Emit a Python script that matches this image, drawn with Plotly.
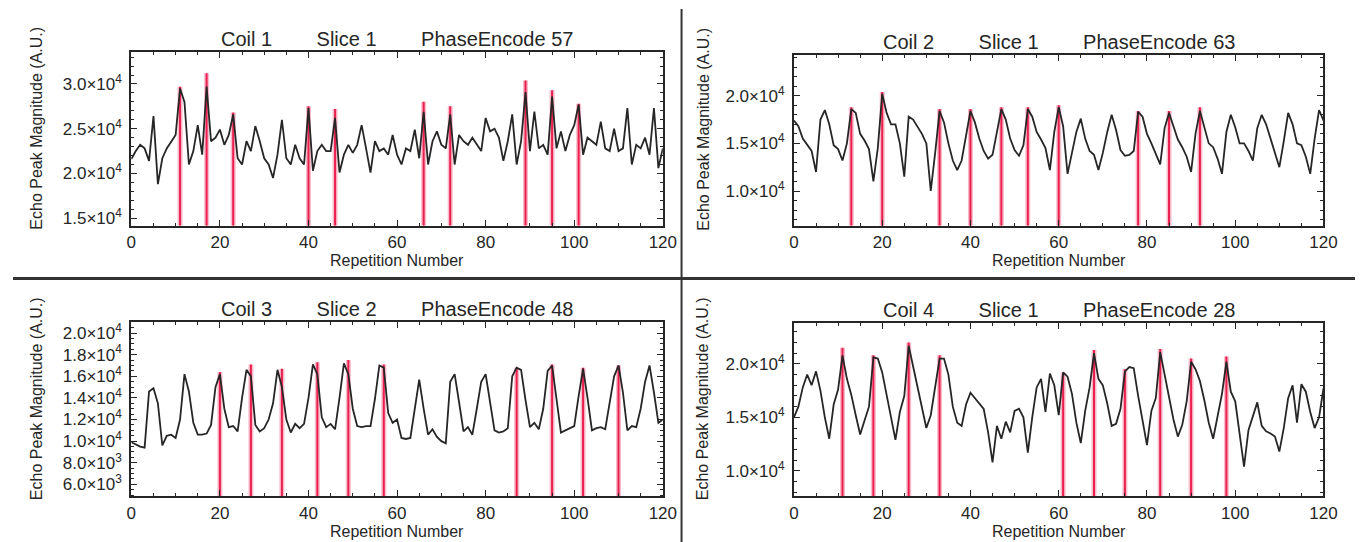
import plotly.graph_objects as go

# ---------------- data (values in units of 10^4 A.U.) ----------------
rep = list(range(121))

coil1 = [2.16, 2.25, 2.32, 2.28, 2.14, 2.64, 1.88, 2.17, 2.28, 2.36,
         2.43, 2.95, 2.80, 2.10, 2.25, 2.54, 2.21, 2.97, 2.36, 2.40,
         2.49, 2.32, 2.43, 2.66, 2.17, 2.10, 2.36, 2.25, 2.53, 2.36,
         2.17, 2.10, 1.95, 2.21, 2.60, 2.17, 2.10, 2.32, 2.17, 2.10,
         2.73, 2.03, 2.25, 2.32, 2.25, 2.25, 2.62, 2.01, 2.21, 2.32,
         2.23, 2.32, 2.54, 2.28, 2.01, 2.36, 2.25, 2.28, 2.21, 2.43,
         2.21, 2.10, 2.28, 2.25, 2.49, 2.17, 2.69, 2.10, 2.36, 2.47,
         2.32, 2.28, 2.66, 2.10, 2.43, 2.36, 2.32, 2.40, 2.32, 2.25,
         2.62, 2.47, 2.50, 2.40, 2.14, 2.36, 2.66, 2.10, 2.36, 2.91,
         2.25, 2.69, 2.28, 2.32, 2.21, 2.86, 2.28, 2.47, 2.25, 2.43,
         2.54, 2.77, 2.21, 2.40, 2.36, 2.32, 2.58, 2.28, 2.25, 2.50,
         2.25, 2.28, 2.73, 2.10, 2.32, 2.28, 2.40, 2.21, 2.73, 2.06,
         2.28]
coil1_marks = [11, 17, 23, 40, 46, 66, 72, 89, 95, 101]
coil1_mark_tops = [2.97, 3.12, 2.68, 2.75, 2.72, 2.80, 2.75, 3.04, 2.93, 2.78]

coil2 = [1.74, 1.68, 1.55, 1.48, 1.42, 1.20, 1.75, 1.85, 1.70, 1.48,
         1.44, 1.32, 1.50, 1.86, 1.82, 1.60, 1.53, 1.44, 1.10, 1.45,
         2.02, 1.82, 1.70, 1.70, 1.50, 1.15, 1.78, 1.75, 1.68, 1.60,
         1.50, 1.00, 1.40, 1.84, 1.72, 1.50, 1.32, 1.22, 1.32, 1.60,
         1.84, 1.72, 1.55, 1.42, 1.34, 1.38, 1.62, 1.86, 1.75, 1.55,
         1.43, 1.37, 1.48, 1.86, 1.78, 1.62, 1.54, 1.45, 1.22, 1.62,
         1.88, 1.68, 1.18, 1.42, 1.62, 1.76, 1.55, 1.42, 1.38, 1.22,
         1.40, 1.62, 1.80, 1.64, 1.43, 1.37, 1.38, 1.42, 1.83, 1.78,
         1.60, 1.50, 1.38, 1.28, 1.66, 1.82, 1.68, 1.54, 1.46, 1.36,
         1.20, 1.60, 1.84, 1.66, 1.50, 1.46, 1.34, 1.18, 1.62, 1.80,
         1.67, 1.50, 1.50, 1.42, 1.32, 1.66, 1.80, 1.70, 1.55, 1.42,
         1.25, 1.52, 1.82, 1.70, 1.50, 1.48, 1.36, 1.18, 1.55, 1.85,
         1.74]
coil2_marks = [13, 20, 33, 40, 47, 53, 60, 78, 85, 92]
coil2_mark_tops = [1.88, 2.04, 1.86, 1.86, 1.88, 1.88, 1.90, 1.84, 1.84, 1.88]

coil3 = [0.99, 0.97, 0.95, 0.94, 1.46, 1.49, 1.35, 0.96, 1.05, 1.06,
         1.03, 1.20, 1.62, 1.46, 1.17, 1.06, 1.06, 1.07, 1.15, 1.50,
         1.62, 1.30, 1.13, 1.14, 1.09, 1.40, 1.66, 1.60, 1.15, 1.09,
         1.12, 1.20, 1.35, 1.66, 1.50, 1.20, 1.08, 1.16, 1.12, 1.16,
         1.40, 1.71, 1.62, 1.22, 1.13, 1.16, 1.11, 1.40, 1.72, 1.62,
         1.30, 1.14, 1.13, 1.14, 1.14, 1.39, 1.70, 1.68, 1.26, 1.17,
         1.20, 1.03, 1.02, 1.03, 1.30, 1.57, 1.30, 1.06, 1.11, 1.04,
         1.00, 0.98, 1.55, 1.62, 1.36, 1.09, 1.13, 1.06, 1.30, 1.55,
         1.62, 1.35, 1.10, 1.08, 1.09, 1.12, 1.60, 1.68, 1.66, 1.38,
         1.13, 1.17, 1.11, 1.30, 1.65, 1.70, 1.40, 1.08, 1.10, 1.12,
         1.14, 1.42, 1.67, 1.40, 1.10, 1.12, 1.13, 1.11, 1.35, 1.60,
         1.70, 1.45, 1.10, 1.14, 1.13, 1.30, 1.55, 1.70, 1.45, 1.17,
         1.20]
coil3_marks = [20, 27, 34, 42, 49, 57, 87, 95, 102, 110]
coil3_mark_tops = [1.64, 1.71, 1.67, 1.73, 1.75, 1.71, 1.68, 1.71, 1.68, 1.70]

coil4 = [1.50, 1.60, 1.78, 1.90, 1.80, 1.93, 1.75, 1.50, 1.30, 1.62,
         1.76, 2.08, 1.86, 1.71, 1.52, 1.34, 1.47, 1.60, 2.06, 2.05,
         1.92, 1.72, 1.50, 1.29, 1.55, 1.70, 2.17, 1.98, 1.80, 1.60,
         1.40, 1.52, 1.78, 2.05, 2.05, 1.90, 1.60, 1.45, 1.42, 1.62,
         1.73, 1.68, 1.62, 1.58, 1.36, 1.08, 1.42, 1.30, 1.46, 1.36,
         1.56, 1.58, 1.50, 1.17, 1.50, 1.78, 1.86, 1.55, 1.91, 1.80,
         1.52, 1.92, 1.88, 1.72, 1.45, 1.26, 1.56, 1.78, 2.10, 1.86,
         1.80, 1.63, 1.42, 1.44, 1.58, 1.93, 1.97, 1.96, 1.70, 1.45,
         1.24, 1.56, 1.68, 2.11, 1.90, 1.66, 1.48, 1.32, 1.43, 1.65,
         2.02, 1.95, 1.84, 1.66, 1.45, 1.30, 1.52, 1.72, 2.02, 1.74,
         1.65, 1.35, 1.04, 1.38, 1.50, 1.64, 1.42, 1.37, 1.35, 1.32,
         1.18, 1.40, 1.68, 1.80, 1.45, 1.81, 1.74, 1.55, 1.40, 1.50,
         1.77]
coil4_marks = [11, 18, 26, 33, 61, 68, 75, 83, 90, 98]
coil4_mark_tops = [2.15, 2.08, 2.20, 2.08, 1.92, 2.13, 1.95, 2.14, 2.05, 2.07]

GAP = "\u00a0" * 8
titles = ["Coil 1" + GAP + "Slice 1" + GAP + "PhaseEncode 57",
          "Coil 2" + GAP + "Slice 1" + GAP + "PhaseEncode 63",
          "Coil 3" + GAP + "Slice 2" + GAP + "PhaseEncode 48",
          "Coil 4" + GAP + "Slice 1" + GAP + "PhaseEncode 28"]

x_ticks = [0, 20, 40, 60, 80, 100, 120]
y_ticks_1 = [1.5, 2.0, 2.5, 3.0]
y_ticks_2 = [1.0, 1.5, 2.0]
y_ticks_3 = [0.6, 0.8, 1.0, 1.2, 1.4, 1.6, 1.8, 2.0]
y_ticks_4 = [1.0, 1.5, 2.0]
y_ticktext_1 = ["1.5×10<sup>4</sup>", "2.0×10<sup>4</sup>", "2.5×10<sup>4</sup>", "3.0×10<sup>4</sup>"]
y_ticktext_2 = ["1.0×10<sup>4</sup>", "1.5×10<sup>4</sup>", "2.0×10<sup>4</sup>"]
y_ticktext_3 = ["6.0×10<sup>3</sup>", "8.0×10<sup>3</sup>", "1.0×10<sup>4</sup>", "1.2×10<sup>4</sup>",
                "1.4×10<sup>4</sup>", "1.6×10<sup>4</sup>", "1.8×10<sup>4</sup>", "2.0×10<sup>4</sup>"]
y_ticktext_4 = ["1.0×10<sup>4</sup>", "1.5×10<sup>4</sup>", "2.0×10<sup>4</sup>"]

# ---------------- layout geometry ----------------
W, H = 1363, 542
FONT = "Liberation Sans, Arial, sans-serif"
INK = "#262626"
RED = "#e8214f"
PINK = "rgba(244,130,160,0.55)"


def px_x(p):
    return p / W


def px_y(p):
    return 1 - p / H


panels = [
    dict(data=coil1, marks=coil1_marks, tops=coil1_mark_tops, yr=[1.415, 3.36],
         yt=y_ticks_1, ytt=y_ticktext_1, mdt=0.1,
         xd=[px_x(120), px_x(659)], yd=[px_y(218), px_y(43)]),
    dict(data=coil2, marks=coil2_marks, tops=coil2_mark_tops, yr=[0.635, 2.43],
         yt=y_ticks_2, ytt=y_ticktext_2, mdt=0.1,
         xd=[px_x(792), px_x(1329)], yd=[px_y(218), px_y(46)]),
    dict(data=coil3, marks=coil3_marks, tops=coil3_mark_tops, yr=[0.49, 2.1],
         yt=y_ticks_3, ytt=y_ticktext_3, mdt=0.05,
         xd=[px_x(120), px_x(659)], yd=[px_y(490), px_y(315)]),
    dict(data=coil4, marks=coil4_marks, tops=coil4_mark_tops, yr=[0.762, 2.38],
         yt=y_ticks_4, ytt=y_ticktext_4, mdt=0.1,
         xd=[px_x(792), px_x(1329)], yd=[px_y(490), px_y(316)]),
]

fig = go.Figure()
annotations = []
layout_axes = {}

for i, p in enumerate(panels):
    n = "" if i == 0 else str(i + 1)
    xa, ya = "x" + n, "y" + n
    # red marker lines from the axis floor to their tops
    lx, ly = [], []
    for m, t in zip(p["marks"], p["tops"]):
        lx += [m, m, None]
        ly += [p["yr"][0], t, None]
    fig.add_trace(go.Scatter(x=lx, y=ly, mode="lines", xaxis=xa, yaxis=ya,
                             line=dict(color=PINK, width=5), hoverinfo="skip", showlegend=False))
    fig.add_trace(go.Scatter(x=lx, y=ly, mode="lines", xaxis=xa, yaxis=ya,
                             line=dict(color=RED, width=2), hoverinfo="skip", showlegend=False))
    # echo peak magnitude trace
    fig.add_trace(go.Scatter(x=rep, y=p["data"], mode="lines", xaxis=xa, yaxis=ya,
                             line=dict(color=INK, width=1.8), showlegend=False))

    axis_common = dict(showline=True, linecolor=INK, linewidth=2, mirror="allticks",
                       ticks="inside", ticklen=6, tickwidth=1.3, tickcolor=INK,
                       showgrid=False, zeroline=False,
                       tickfont=dict(family=FONT, size=17, color=INK))
    layout_axes["xaxis" + n] = dict(axis_common, domain=p["xd"], range=[0, 120],
                                    anchor=ya, tickvals=x_ticks,
                                    minor=dict(ticks="inside", ticklen=3, dtick=5,
                                               tickcolor=INK, showgrid=False))
    layout_axes["yaxis" + n] = dict(axis_common, domain=p["yd"], range=p["yr"],
                                    anchor=xa, tickvals=p["yt"], ticktext=p["ytt"],
                                    ticklabelstandoff=4,
                                    minor=dict(ticks="inside", ticklen=3, dtick=p["mdt"],
                                               tick0=0, tickcolor=INK, showgrid=False))

    xc = (p["xd"][0] + p["xd"][1]) / 2
    top_px = (1 - p["yd"][1]) * H
    bot_px = (1 - p["yd"][0]) * H
    annotations.append(dict(text=titles[i], x=xc, y=px_y(top_px - 13), xref="paper", yref="paper",
                            showarrow=False, xanchor="center", yanchor="middle",
                            font=dict(family=FONT, size=20, color=INK)))
    annotations.append(dict(text="Repetition Number", x=xc, y=px_y(bot_px + 35), xref="paper",
                            yref="paper", showarrow=False, xanchor="center", yanchor="middle",
                            font=dict(family=FONT, size=16, color=INK)))
    yc = (p["yd"][0] + p["yd"][1]) / 2 + 0.02
    ytx = px_x(24) if i in (0, 2) else px_x(700)
    annotations.append(dict(text="Echo Peak Magnitude (A.U.)", x=ytx, y=yc, xref="paper",
                            yref="paper", showarrow=False, textangle=-90,
                            xanchor="center", yanchor="middle",
                            font=dict(family=FONT, size=16, color=INK)))

shapes = [
    dict(type="line", xref="paper", yref="paper", x0=0, x1=1, y0=px_y(271), y1=px_y(271),
         line=dict(color="#333333", width=3)),
    dict(type="line", xref="paper", yref="paper", x0=px_x(678), x1=px_x(678), y0=0, y1=1,
         line=dict(color="#333333", width=2)),
]

fig.update_layout(width=W, height=H, margin=dict(l=0, r=0, t=0, b=0),
                  paper_bgcolor="white", plot_bgcolor="white",
                  annotations=annotations, shapes=shapes, showlegend=False,
                  **layout_axes)

fig.write_html("out.html")
